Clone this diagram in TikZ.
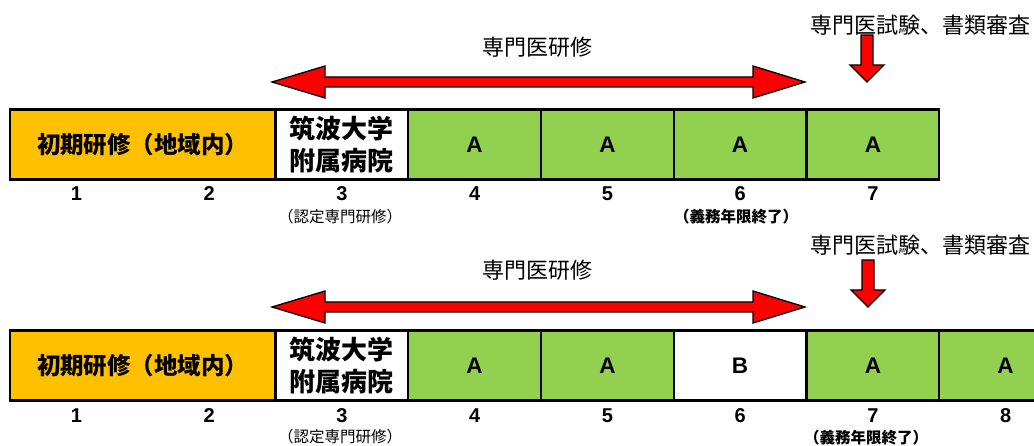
\documentclass[tikz,border=0pt]{standalone}
\usepackage{fontspec}
\newfontfamily\jp{Noto Sans CJK JP}
\newfontfamily\ar{Liberation Sans}
\definecolor{orng}{HTML}{FFC000}
\definecolor{grn}{HTML}{92D050}
\definecolor{rd}{HTML}{FF0000}
\begin{document}
\begin{tikzpicture}[x=1pt,y=-1pt,
  cell/.style={draw=black,line width=2.2pt,minimum width=132.75pt,minimum height=70pt,inner sep=0pt,anchor=center},
  wide/.style={cell,minimum width=265.5pt},
  lett/.style={font=\ar\bfseries\fontsize{22.5}{22.5}\selectfont},
  num/.style={font=\ar\bfseries\fontsize{20}{20}\selectfont,inner sep=0pt},
  sub/.style={font=\jp\fontsize{15.5}{16}\selectfont,inner sep=0pt},
  subb/.style={font=\jp\bfseries\fontsize{15.5}{16}\selectfont,inner sep=0pt},
  lbl/.style={font=\jp\fontsize{22}{22}\selectfont,inner sep=0pt},
  redarrow/.style={fill=rd,draw=black,line width=1.3pt,line join=miter}
]
\useasboundingbox (0,0) rectangle (1034,446);

% ---------- top row ----------
\node[lbl] (top-lab) at (537,47) {専門医研修};
\node[lbl] (top-exam) at (920,25) {専門医試験、書類審査};
\draw[redarrow] (272,82) -- (325,66) -- (325,77) -- (753,77) -- (753,66) -- (805,82)
  -- (753,98) -- (753,87) -- (325,87) -- (325,98) -- cycle;
\draw[redarrow] (861,35) -- (873,35) -- (873,65) -- (884,65) -- (867,82) -- (850,65) -- (861,65) -- cycle;

\node[wide,fill=orng,font=\jp\bfseries\fontsize{23.5}{24}\selectfont] (t12) at (142.75,144.5) {初期研修（地域内）};
\node[cell,fill=white,align=center,font=\jp\bfseries\fontsize{26}{32}\selectfont] (t3) at (341.9,144.5) {筑波大学\\附属病院};
\node[cell,fill=grn,lett] (t4) at (474.6,144.5) {A};
\node[cell,fill=grn,lett] (t5) at (607.4,144.5) {A};
\node[cell,fill=grn,lett] (t6) at (740.1,144.5) {A};
\node[cell,fill=grn,lett] (t7) at (872.9,144.5) {A};

\node[num] (tn1) at (76.4,194) {1};
\node[num] (tn2) at (209.1,194) {2};
\node[num] (tn3) at (341.9,194) {3};
\node[num] (tn4) at (474.6,194) {4};
\node[num] (tn5) at (607.4,194) {5};
\node[num] (tn6) at (740.1,194) {6};
\node[num] (tn7) at (872.9,194) {7};
\node[sub] (ts3) at (340,217) {（認定専門研修）};
\node[subb] (ts6) at (736,217) {（義務年限終了）};

% ---------- bottom row ----------
\node[lbl] (bot-lab) at (537,270) {専門医研修};
\node[lbl] (bot-exam) at (920,245) {専門医試験、書類審査};
\draw[redarrow] (272,307) -- (325,291) -- (325,302) -- (753,302) -- (753,291) -- (805,307)
  -- (753,323) -- (753,312) -- (325,312) -- (325,323) -- cycle;
\draw[redarrow] (862,260) -- (874,260) -- (874,290) -- (885,290) -- (868,307) -- (851,290) -- (862,290) -- cycle;

\node[wide,fill=orng,font=\jp\bfseries\fontsize{23.5}{24}\selectfont] (b12) at (142.75,365.5) {初期研修（地域内）};
\node[cell,fill=white,align=center,font=\jp\bfseries\fontsize{26}{32}\selectfont] (b3) at (341.9,365.5) {筑波大学\\附属病院};
\node[cell,fill=grn,lett] (b4) at (474.6,365.5) {A};
\node[cell,fill=grn,lett] (b5) at (607.4,365.5) {A};
\node[cell,fill=white,lett] (b6) at (740.1,365.5) {B};
\node[cell,fill=grn,lett] (b7) at (872.9,365.5) {A};
\node[cell,fill=grn,lett] (b8) at (1005.6,365.5) {A};

\node[num] (bn1) at (76.4,416) {1};
\node[num] (bn2) at (209.1,416) {2};
\node[num] (bn3) at (341.9,416) {3};
\node[num] (bn4) at (474.6,416) {4};
\node[num] (bn5) at (607.4,416) {5};
\node[num] (bn6) at (740.1,416) {6};
\node[num] (bn7) at (872.9,416) {7};
\node[num] (bn8) at (1005.6,416) {8};
\node[sub] (bs3) at (340,437) {（認定専門研修）};
\node[subb] (bs7) at (866,438) {（義務年限終了）};
\end{tikzpicture}
\end{document}
